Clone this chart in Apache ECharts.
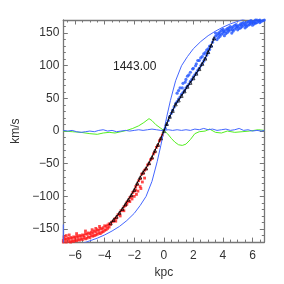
<!DOCTYPE html>
<html><head><meta charset="utf-8">
<script src="https://cdn.jsdelivr.net/npm/echarts@6/dist/echarts.min.js"></script>
<style>html,body{margin:0;padding:0;background:#fff}#c{width:284px;height:284px}</style>
</head><body><div id="c"></div>
<script>
// ---- data (kpc, km/s) ----
var xTickLabels = [-6, -4, -2, 0, 2, 4, 6];
var yTickLabels = [-150, -100, -50, 0, 50, 100, 150];
var annotation = "1443.00";

var modelCurve = [[-6.8,-179],[-6.0,-175],[-5.5,-172],[-5.0,-168],[-4.5,-164],[-4.0,-159],[-3.5,-153],[-3.0,-146],[-2.5,-137],[-2.0,-126],[-1.6,-114],[-1.2,-100],[-0.8,-77],[-0.45,-47],[-0.2,-22],[0,0],
  [0.2,22],[0.45,47],[0.8,77],[1.2,100],[1.6,114],[2.0,126],[2.5,137],[3.0,146],[3.5,153],[4.0,159],[4.5,164],[5.0,168],[5.5,172],[6.0,175],[6.8,179]];
var edgeSegment = [[-6.8,-143],[-6.8,-172]];

var fitCurve = [[-3.6,-141],[-3.4,-136],[-3.2,-131],[-3.0,-125],[-2.8,-119],[-2.6,-112],[-2.4,-105],[-2.2,-98],[-2.0,-90],[-1.8,-80],[-1.6,-71],[-1.4,-63],[-1.2,-57],[-1.0,-49],[-0.8,-40],[-0.6,-30],[-0.4,-21],[-0.2,-11],[0,0],
  [0.2,11],[0.4,22],[0.6,31],[0.8,41],[1.0,47],[1.2,54],[1.4,61],[1.6,68],[1.8,74],[2.0,81],[2.2,88],[2.4,95],[2.6,103],[2.8,111],[3.0,121],[3.2,131],[3.4,142]];

var approachingPts = [[-0.1,-6],[-0.2,-12],[-0.3,-15],[-0.4,-22],[-0.5,-25],[-0.6,-32],[-0.7,-35],[-0.8,-42],[-0.9,-44],[-1.0,-50],[-1.1,-52],[-1.2,-58],[-1.3,-60],[-1.4,-65],[-1.5,-66],[-1.6,-73],[-1.7,-76],[-1.8,-82],[-1.9,-85],[-2.0,-92],[-2.1,-94],[-2.2,-100],[-2.3,-102],[-2.4,-107],[-2.5,-109],[-2.6,-114],[-2.7,-116],[-2.8,-121],[-2.9,-122],[-3.0,-127],[-3.1,-128],[-3.2,-133],[-3.3,-134],[-3.4,-138],[-3.5,-139],[-3.6,-143],
  [-1.3,-72],[-1.45,-78],[-1.6,-85],[-1.75,-92],[-1.85,-97],[-2.0,-100],[-2.15,-104],[-2.3,-108],[-2.5,-112],[-1.55,-88],[-1.9,-90],[-2.7,-122],[-2.95,-130],[-3.25,-138],
  [-3.7,-142],[-3.7,-147],[-3.8,-144],[-3.8,-149],[-3.9,-146],[-3.9,-151],[-4.0,-145],[-4.0,-152],[-4.1,-148],[-4.1,-154],[-4.2,-150],[-4.2,-155],[-4.3,-149],[-4.3,-157],[-4.4,-152],[-4.4,-156],[-4.5,-151],[-4.5,-158],[-4.6,-154],[-4.6,-159],[-4.7,-153],[-4.7,-160],[-4.8,-156],[-4.8,-161],[-4.9,-155],[-4.9,-160],[-5.0,-157],[-5.0,-163],[-5.1,-156],[-5.1,-162],[-5.2,-158],[-5.2,-164],[-5.3,-157],[-5.3,-165],[-5.4,-160],[-5.4,-163],[-5.5,-159],[-5.5,-166],[-5.6,-161],[-5.6,-165],[-5.7,-160],[-5.7,-167],[-5.8,-162],[-5.8,-166],[-5.9,-161],[-5.9,-168],[-6.0,-163],[-6.0,-167],[-6.1,-162],[-6.1,-169],[-6.2,-164],[-6.2,-168],[-6.3,-163],[-6.3,-170],[-6.4,-165],[-6.4,-169],[-6.5,-164],[-6.5,-171],[-6.6,-166],[-6.6,-170],[-6.7,-165],[-6.7,-171],[-6.8,-167],[-6.8,-170],
  [-6.75,-162],[-6.6,-160],[-6.4,-159],[-5.9,-157],[-5.3,-153],[-4.6,-149],[-4.35,-146],[-4.85,-151]];

var recedingPts = [[0.1,4],[0.2,10],[0.3,16],[0.4,22],[0.5,27],[0.6,32],[0.7,37],[0.8,42],[0.9,45],[1.0,49],[1.1,52],[1.2,56],[1.3,59],[1.4,62],[1.5,66],[1.6,69],[1.7,72],[1.8,76],[1.9,79],[2.0,83],[2.1,86],[2.2,89],[2.3,93],[2.4,96],[2.5,100],[2.6,103],[2.7,107],[2.8,111],[2.9,116],[3.0,120],[3.1,125],[3.2,130],[3.3,136],[3.4,141],
  [0.9,58],[1.0,62],[1.1,66],[1.3,73],[1.5,79],[1.6,84],[1.8,90],[2.0,96],[2.2,103],[2.3,108],[2.5,112],[2.7,118],[2.9,124],[3.1,130],
  [1.25,66],[1.45,75],[1.7,86],[1.95,95],[2.15,100],[2.4,108],[2.6,114],[2.8,120],[3.0,126],
  [3.5,145],[3.5,150],[3.6,147],[3.6,140],[3.7,150],[3.7,143],[3.8,152],[3.8,145],[3.9,148],[3.9,154],[4.0,150],[4.0,156],[4.1,152],[4.1,146],[4.2,155],[4.2,149],[4.3,157],[4.3,151],[4.4,153],[4.4,158],[4.5,155],[4.5,160],[4.6,158],[4.6,150],[4.7,160],[4.7,153],[4.8,156],[4.8,162],[4.9,158],[4.9,163],[5.0,160],[5.0,155],[5.1,162],[5.1,157],[5.2,164],[5.2,158],[5.3,160],[5.3,165],[5.4,162],[5.4,166],[5.5,164],[5.5,158],[5.6,166],[5.6,160],[5.7,167],[5.7,162],[5.8,163],[5.8,168],[5.9,165],[5.9,169],[6.0,167],[6.0,162],[6.1,168],[6.1,164],[6.2,170],[6.2,165],[6.3,166],[6.3,170],[6.4,168],[6.4,171],[6.5,170],[6.5,166],[6.6,171],[6.6,168],[6.7,169],[6.7,172],[6.8,170],[6.8,172],
  [3.75,148],[4.05,153],[4.35,155],[4.65,155],[4.95,160],[5.25,162],[5.55,162],[5.85,165],[6.15,166],[6.45,169]];

var greenResidual = [[-6.8,0],[-6.2,-1],[-5.6,-2],[-5.0,-4],[-4.5,-5],[-4.1,-3],[-3.7,-2],[-3.3,-3],[-2.9,-1],[-2.5,1],[-2.1,4],[-1.7,8],[-1.35,13],[-1.0,19],[-0.8,16],[-0.55,10],[-0.25,5],[0,1],[0.25,-4],[0.5,-11],[0.75,-17],[1.0,-21],[1.25,-22],[1.5,-20],[1.8,-13],[2.1,-4],[2.4,-1],[2.8,0],[3.1,3],[3.5,-2],[3.9,-3],[4.3,0],[4.8,-2],[5.3,-1],[5.8,0],[6.4,2],[6.8,1]];

var blueResidual = [[-6.8,1],[-6.5,0],[-6.2,1],[-5.9,-1],[-5.6,-2],[-5.3,-1],[-5.0,0],[-4.7,-1],[-4.4,1],[-4.1,2],[-3.8,0],[-3.5,1],[-3.2,-1],[-2.9,0],[-2.6,1],[-2.3,0],[-2.0,1],[-1.7,2],[-1.4,1],[-1.1,2],[-0.8,3],[-0.5,2],[-0.2,1],[0,1],[0.3,2],[0.6,1],[0.9,2],[1.2,1],[1.5,2],[1.8,1],[2.1,3],[2.4,2],[2.7,4],[3.0,2],[3.3,3],[3.6,1],[3.9,2],[4.2,3],[4.5,1],[4.8,2],[5.1,4],[5.4,1],[5.7,2],[6.0,0],[6.3,1],[6.6,0],[6.8,1]];

// ---- chart ----
var AX = '#777';
var FONT = 'Liberation Sans';
var XMIN = -6.8, XMAX = 6.8, YMIN = -170, YMAX = 170;
function fmt(v){ return String(v).replace('-', '\u2212'); }
function majorX(pos, labels){
  return {type:'value', position:pos, min:XMIN, max:XMAX, minInterval:2, maxInterval:2,
    axisLine:{show:true, onZero:false, lineStyle:{color:AX, width:1.3}},
    axisTick:{show:true, inside:true, length:4.5, lineStyle:{color:AX, width:1}},
    axisLabel:{show:labels, showMinLabel:false, showMaxLabel:false, margin:8, fontSize:12, fontFamily:FONT, color:'#333', formatter:fmt},
    splitLine:{show:false},
    name: labels ? 'kpc' : '', nameLocation:'middle', nameGap:20,
    nameTextStyle:{fontSize:12, fontFamily:FONT, color:'#333'}};
}
function minorX(pos){
  return {type:'value', position:pos, min:XMIN, max:XMAX, minInterval:0.5, maxInterval:0.5,
    axisLine:{show:false, onZero:false}, axisTick:{show:true, inside:true, length:2.5, lineStyle:{color:AX, width:1}},
    axisLabel:{show:false}, splitLine:{show:false}};
}
function majorY(pos, labels){
  return {type:'value', position:pos, min:YMIN, max:YMAX, minInterval:50, maxInterval:50,
    axisLine:{show:true, onZero:false, lineStyle:{color:AX, width:1.3}},
    axisTick:{show:true, inside:true, length:4.5, lineStyle:{color:AX, width:1}},
    axisLabel:{show:labels, showMinLabel:false, showMaxLabel:false, margin:4, fontSize:12, fontFamily:FONT, color:'#333', formatter:fmt},
    splitLine:{show:false},
    name: labels ? 'km/s' : '', nameLocation:'middle', nameGap:37, nameRotate:90,
    nameTextStyle:{fontSize:12, fontFamily:FONT, color:'#333'}};
}
function minorY(pos){
  return {type:'value', position:pos, min:YMIN, max:YMAX, minInterval:10, maxInterval:10,
    axisLine:{show:false, onZero:false}, axisTick:{show:true, inside:true, length:2.5, lineStyle:{color:AX, width:1}},
    axisLabel:{show:false}, splitLine:{show:false}};
}

var chart = echarts.init(document.getElementById('c'), null, {renderer:'canvas'});
chart.setOption({
  animation:false,
  backgroundColor:'#fff',
  title:{text:annotation, left:108, top:56, textStyle:{fontSize:12, fontWeight:'normal', fontFamily:FONT, color:'#222'}},
  grid:{left:63.3, right:19.7, top:20, bottom:40.7, containLabel:false},
  xAxis:[majorX('bottom', true), minorX('bottom'), majorX('top', false), minorX('top')],
  yAxis:[majorY('left', true), minorY('left'), majorY('right', false), minorY('right')],
  series:[
    {type:'line', data:greenResidual, symbol:'none', lineStyle:{color:'#55ee22', width:1}, z:2},
    {type:'line', data:blueResidual, symbol:'none', lineStyle:{color:'#4466ff', width:1}, z:2},
    {type:'scatter', data:approachingPts, symbol:'rect', symbolSize:2.8, itemStyle:{color:'#ff1a1a'}, z:3},
    {type:'scatter', data:recedingPts, symbol:'circle', symbolSize:3.2, itemStyle:{color:'#2255ff'}, z:3},
    {type:'line', data:modelCurve, symbol:'none', lineStyle:{color:'#4466ff', width:1}, z:4},
    {type:'line', data:edgeSegment, symbol:'none', lineStyle:{color:'#4466ff', width:1}, z:4},
    {type:'line', data:fitCurve, symbol:'triangle', symbolSize:3.2, showSymbol:true,
      itemStyle:{color:'rgba(0,0,0,0)', borderColor:'#000', borderWidth:0.7}, lineStyle:{color:'#000', width:1}, z:5}
  ]
});
</script></body></html>
